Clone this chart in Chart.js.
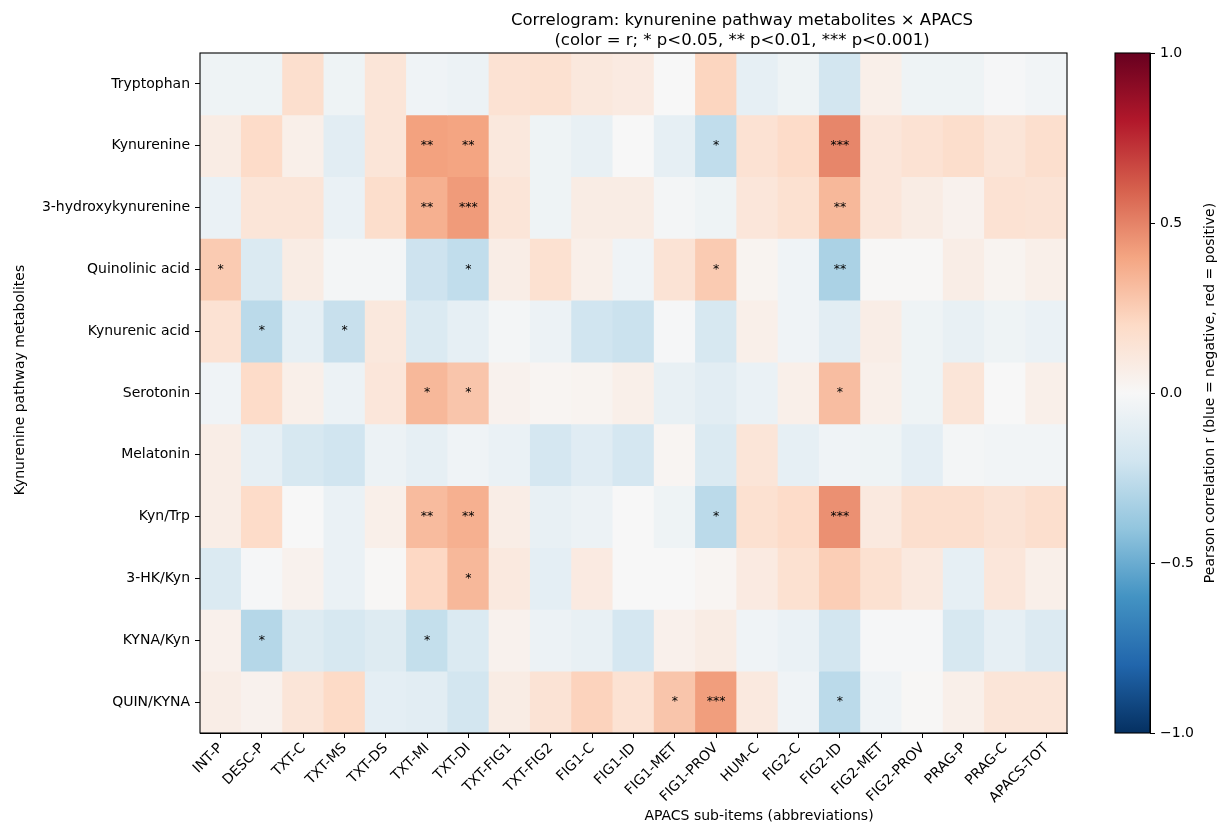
<!DOCTYPE html>
<html><head><meta charset="utf-8">
<script src="https://cdn.jsdelivr.net/npm/chart.js@4.4.1/dist/chart.umd.min.js"></script>
<style>
html,body{margin:0;padding:0;background:#fff;}
#wrap{position:relative;width:1229px;height:827px;background:#fff;}
</style></head><body>
<div id="wrap">
<div style="position:absolute;left:0;top:0;width:1100px;height:827px;"><canvas id="main"></canvas></div>
<div style="position:absolute;left:1100px;top:0;width:129px;height:827px;"><canvas id="cbar"></canvas></div>
</div>
<script>
// ---------------- data ----------------
const metabolites = ['Tryptophan','Kynurenine','3-hydroxykynurenine','Quinolinic acid','Kynurenic acid','Serotonin','Melatonin','Kyn/Trp','3-HK/Kyn','KYNA/Kyn','QUIN/KYNA'];
const apacsItems = ['INT-P','DESC-P','TXT-C','TXT-MS','TXT-DS','TXT-MI','TXT-DI','TXT-FIG1','TXT-FIG2','FIG1-C','FIG1-ID','FIG1-MET','FIG1-PROV','HUM-C','FIG2-C','FIG2-ID','FIG2-MET','FIG2-PROV','PRAG-P','PRAG-C','APACS-TOT'];

// Pearson r per metabolite (row) across APACS sub-items (columns)
const rTryptophan  = [-0.05,-0.05, 0.17,-0.05, 0.13,-0.04,-0.06, 0.15, 0.16, 0.11, 0.09, 0.00, 0.22,-0.09,-0.05,-0.19, 0.06,-0.05,-0.05,-0.01,-0.03];
const rKynurenine  = [ 0.08, 0.19, 0.06,-0.11, 0.13, 0.41, 0.40, 0.11,-0.05,-0.08, 0.00,-0.09,-0.25, 0.15, 0.19, 0.49, 0.12, 0.15, 0.18, 0.13, 0.17];
const r3HK         = [-0.07, 0.13, 0.13,-0.07, 0.18, 0.36, 0.43, 0.13,-0.05, 0.08, 0.08,-0.02,-0.05, 0.12, 0.16, 0.33, 0.12, 0.08, 0.04, 0.15, 0.14];
const rQuinolinic  = [ 0.26,-0.15, 0.08,-0.02,-0.02,-0.21,-0.25, 0.07, 0.16, 0.06,-0.04, 0.14, 0.26, 0.03,-0.04,-0.32, 0.01, 0.01, 0.07, 0.03, 0.06];
const rKynurenic   = [ 0.15,-0.27,-0.09,-0.23, 0.11,-0.15,-0.09,-0.02,-0.06,-0.20,-0.22,-0.01,-0.17, 0.06,-0.04,-0.11, 0.07,-0.05,-0.08,-0.05,-0.07];
const rSerotonin   = [-0.04, 0.19, 0.06,-0.06, 0.12, 0.33, 0.28, 0.04, 0.02, 0.03, 0.06,-0.08,-0.11,-0.07, 0.06, 0.31, 0.06,-0.05, 0.13, 0.00, 0.06];
const rMelatonin   = [ 0.07,-0.09,-0.17,-0.20,-0.06,-0.09,-0.04,-0.07,-0.18,-0.12,-0.18, 0.02,-0.15, 0.13,-0.09,-0.04,-0.05,-0.10,-0.02,-0.03,-0.03];
const rKynTrp      = [ 0.07, 0.19, 0.00,-0.07, 0.06, 0.32, 0.36, 0.07,-0.08,-0.06, 0.00,-0.05,-0.27, 0.16, 0.19, 0.46, 0.10, 0.17, 0.17, 0.14, 0.17];
const r3HKKyn      = [-0.15,-0.01, 0.04,-0.07, 0.01, 0.21, 0.33, 0.10,-0.10, 0.09, 0.00, 0.00, 0.02, 0.09, 0.16, 0.25, 0.16, 0.10,-0.09, 0.12, 0.06];
const rKynaKyn     = [ 0.05,-0.29,-0.13,-0.17,-0.13,-0.24,-0.15, 0.04,-0.06,-0.08,-0.18, 0.05, 0.08,-0.04,-0.07,-0.19,-0.01,-0.01,-0.17,-0.09,-0.14];
const rQuinKyna    = [ 0.07, 0.04, 0.13, 0.20,-0.10,-0.11,-0.19, 0.08, 0.14, 0.23, 0.15, 0.28, 0.42, 0.10,-0.04,-0.27,-0.04, 0.01, 0.06, 0.13, 0.13];

// significance level per cell: 0 none, 1 p<0.05, 2 p<0.01, 3 p<0.001
const sigTryptophan = [0,0,0,0,0,0,0,0,0,0,0,0,0,0,0,0,0,0,0,0,0];
const sigKynurenine = [0,0,0,0,0,2,2,0,0,0,0,0,1,0,0,3,0,0,0,0,0];
const sig3HK        = [0,0,0,0,0,2,3,0,0,0,0,0,0,0,0,2,0,0,0,0,0];
const sigQuinolinic = [1,0,0,0,0,0,1,0,0,0,0,0,1,0,0,2,0,0,0,0,0];
const sigKynurenic  = [0,1,0,1,0,0,0,0,0,0,0,0,0,0,0,0,0,0,0,0,0];
const sigSerotonin  = [0,0,0,0,0,1,1,0,0,0,0,0,0,0,0,1,0,0,0,0,0];
const sigMelatonin  = [0,0,0,0,0,0,0,0,0,0,0,0,0,0,0,0,0,0,0,0,0];
const sigKynTrp     = [0,0,0,0,0,2,2,0,0,0,0,0,1,0,0,3,0,0,0,0,0];
const sig3HKKyn     = [0,0,0,0,0,0,1,0,0,0,0,0,0,0,0,0,0,0,0,0,0];
const sigKynaKyn    = [0,1,0,0,0,1,0,0,0,0,0,0,0,0,0,0,0,0,0,0,0];
const sigQuinKyna   = [0,0,0,0,0,0,0,0,0,0,0,1,3,0,0,1,0,0,0,0,0];

const colorbarTicks = [-1, -0.5, 0, 0.5, 1];
const titleLines = ['Correlogram: kynurenine pathway metabolites \u00d7 APACS', '(color = r; * p<0.05, ** p<0.01, *** p<0.001)'];
const xTitle = 'APACS sub-items (abbreviations)';
const yTitle = 'Kynurenine pathway metabolites';
const cbTitle = 'Pearson correlation r (blue = negative, red = positive)';

// ---------------- assembly ----------------
const rRows = [rTryptophan,rKynurenine,r3HK,rQuinolinic,rKynurenic,rSerotonin,rMelatonin,rKynTrp,r3HKKyn,rKynaKyn,rQuinKyna];
const sigRows = [sigTryptophan,sigKynurenine,sig3HK,sigQuinolinic,sigKynurenic,sigSerotonin,sigMelatonin,sigKynTrp,sig3HKKyn,sigKynaKyn,sigQuinKyna];

const RDBU_R = ['#053061','#2166ac','#4393c3','#92c5de','#d1e5f0','#f7f7f7','#fddbc7','#f4a582','#d6604d','#b2182b','#67001f'];
function hex2rgb(h){return [parseInt(h.slice(1,3),16),parseInt(h.slice(3,5),16),parseInt(h.slice(5,7),16)];}
function cmap(v){
  const t=(Math.max(-1,Math.min(1,v))+1)/2*10;
  const i=Math.min(9,Math.floor(t)); const f=t-i;
  const a=hex2rgb(RDBU_R[i]), b=hex2rgb(RDBU_R[i+1]);
  return 'rgb('+a.map((x,k)=>Math.round(x+(b[k]-x)*f)).join(',')+')';
}

Chart.defaults.font.family = '"DejaVu Sans", sans-serif';
Chart.defaults.font.size = 14;
Chart.defaults.color = '#000';

const datasets = rRows.map((vals,r)=>({
  label: metabolites[r],
  data: vals.map(()=>[r, r+1]),
  backgroundColor: vals.map(cmap),
  borderWidth: 0,
  grouped: false,
  barPercentage: 1,
  categoryPercentage: 1
}));

const annot = {
  id:'annot',
  afterDatasetsDraw(chart){
    const c=chart.ctx, xs=chart.scales.x, ys=chart.scales.y;
    c.save(); c.fillStyle='#000'; c.textAlign='center'; c.textBaseline='middle';
    c.font='12.5px "DejaVu Sans"';
    sigRows.forEach((row,r)=>row.forEach((s,ci)=>{
      if(s>0) c.fillText('*'.repeat(s), xs.getPixelForValue(ci), ys.getPixelForValue(r+0.5));
    }));
    c.restore();
  },
  afterDraw(chart){
    const c=chart.ctx, a=chart.chartArea;
    c.save();
    c.strokeStyle='#000'; c.lineWidth=1.1;
    c.strokeRect(a.left, a.top, a.right-a.left, a.bottom-a.top);
    c.fillStyle='#000'; c.textAlign='center'; c.textBaseline='middle';
    c.font='16.5px "DejaVu Sans"';
    c.fillText(titleLines[0], 742, 21);
    c.fillText(titleLines[1], 742, 41);
    c.font='14px "DejaVu Sans"';
    c.fillText(xTitle, 759, 816);
    c.translate(20, 380); c.rotate(-Math.PI/2);
    c.fillText(yTitle, 0, 0);
    c.restore();
  }
};

new Chart(document.getElementById('main'), {
  type:'bar',
  data:{ labels: apacsItems, datasets },
  options:{
    responsive:true, maintainAspectRatio:false, animation:false,
    layout:{ padding:{ left:0, right:33, top:53, bottom:0 } },
    plugins:{ legend:{display:false}, tooltip:{enabled:false}, title:{display:false} },
    scales:{
      x:{
        type:'category', offset:true,
        grid:{ display:true, drawOnChartArea:false, offset:false, tickLength:5, color:'#000', lineWidth:1 },
        border:{ display:true, color:'#000' },
        ticks:{ autoSkip:false, minRotation:45, maxRotation:45, padding:2, font:{size:14} },
        afterFit(s){ s.height = 94; }
      },
      y:{
        type:'linear', min:0, max:metabolites.length, reverse:true,
        afterBuildTicks(s){ s.ticks = metabolites.map((_,i)=>({value:i+0.5})); },
        grid:{ display:true, drawOnChartArea:false, tickLength:5, color:'#000', lineWidth:1 },
        border:{ display:true, color:'#000' },
        ticks:{ padding:5, font:{size:14}, callback:(v)=>metabolites[Math.floor(v)] },
        afterFit(s){ s.width = 200; }
      }
    }
  },
  plugins:[annot]
});

const cbPlugin = {
  id:'cbText',
  afterDraw(chart){
    const c=chart.ctx, a=chart.chartArea;
    c.save();
    c.strokeStyle='#000'; c.lineWidth=1.1;
    c.strokeRect(a.left, a.top, a.right-a.left, a.bottom-a.top);
    c.fillStyle='#000'; c.textAlign='center'; c.textBaseline='middle';
    c.font='14px "DejaVu Sans"';
    c.translate(110, 393); c.rotate(-Math.PI/2);
    c.fillText(cbTitle, 0, 0);
    c.restore();
  }
};

new Chart(document.getElementById('cbar'), {
  type:'bar',
  data:{ labels:['r'], datasets:[{
    data:[[colorbarTicks[0], colorbarTicks[colorbarTicks.length-1]]],
    backgroundColor:(ctx)=>{
      const a=ctx.chart.chartArea; if(!a) return '#f7f7f7';
      const g=ctx.chart.ctx.createLinearGradient(0,a.bottom,0,a.top);
      RDBU_R.forEach((col,i)=>g.addColorStop(i/10,col));
      return g;
    },
    borderWidth:0, barPercentage:1, categoryPercentage:1
  }]},
  options:{
    responsive:true, maintainAspectRatio:false, animation:false,
    layout:{ padding:{ left:15, right:0, top:53, bottom:94 } },
    plugins:{ legend:{display:false}, tooltip:{enabled:false} },
    scales:{
      x:{ display:false },
      y:{
        position:'right', min:-1, max:1,
        afterBuildTicks(s){ s.ticks = colorbarTicks.map(v=>({value:v})); },
        grid:{ display:true, drawOnChartArea:false, tickLength:5, color:'#000' },
        border:{ display:true, color:'#000' },
        ticks:{ padding:5, font:{size:14}, callback:(v)=>(v<0?'\u2212':'')+Math.abs(v).toFixed(1) },
        afterFit(s){ s.width = 79; }
      }
    }
  },
  plugins:[cbPlugin]
});
</script>
</body></html>
